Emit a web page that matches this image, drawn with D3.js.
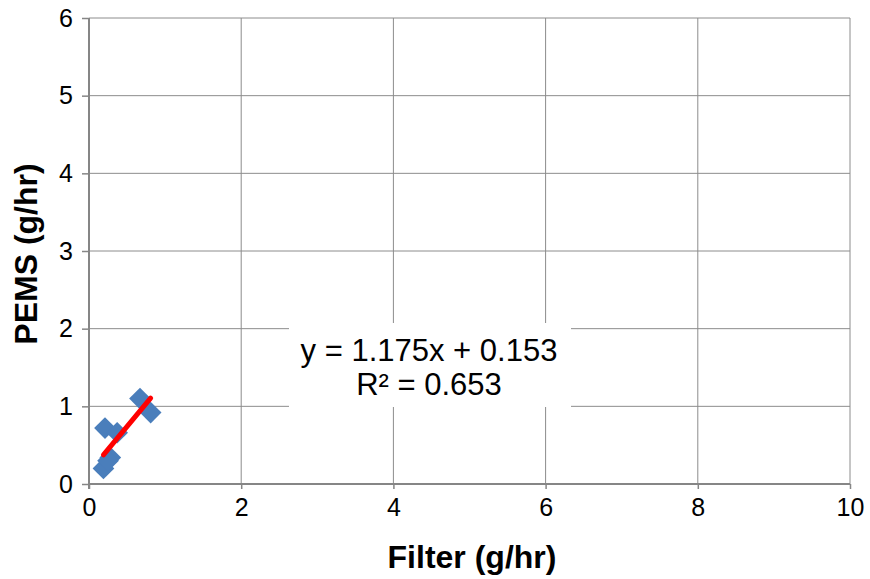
<!DOCTYPE html>
<html>
<head>
<meta charset="utf-8">
<script src="https://cdn.jsdelivr.net/npm/d3@7"></script>
<style>
  body { margin: 0; background: #fff; }
  svg text { font-family: "Liberation Sans", Arial, sans-serif; }
</style>
</head>
<body>
<svg id="chart" width="870" height="579"></svg>
<script>
// data
const filterVals = [0.67, 0.81, 0.21, 0.37, 0.28, 0.19, 0.25];
const pemsVals   = [1.10, 0.92, 0.72, 0.66, 0.34, 0.20, 0.30];
const xTicks = [0, 2, 4, 6, 8, 10];
const yTicks = [0, 1, 2, 3, 4, 5, 6];
const slope = 1.175, intercept = 0.153;
const eqLines = ["y = 1.175x + 0.153", "R\u00b2 = 0.653"];

const svg = d3.select("#chart");
const m = { left: 89, right: 850, top: 18, bottom: 484 };

const x = d3.scaleLinear().domain([0, 10]).range([m.left, m.right]);
const y = d3.scaleLinear().domain([0, 6]).range([m.bottom, m.top]);

// grid
svg.append("g").selectAll("line")
    .data(xTicks.slice(1))
    .enter().append("line")
    .attr("x1", d => x(d)).attr("x2", d => x(d))
    .attr("y1", m.top).attr("y2", m.bottom)
    .attr("stroke", "#8c8c8c").attr("stroke-width", 1);

svg.append("g").selectAll("line")
    .data(yTicks.slice(1))
    .enter().append("line")
    .attr("x1", m.left).attr("x2", m.right)
    .attr("y1", d => y(d)).attr("y2", d => y(d))
    .attr("stroke", "#8c8c8c").attr("stroke-width", 1);

// axes
const xAxis = svg.append("g")
    .attr("transform", `translate(0,${m.bottom})`)
    .call(d3.axisBottom(x).tickValues(xTicks).tickFormat(d3.format("d"))
        .tickSize(5).tickPadding(9));
const yAxis = svg.append("g")
    .attr("transform", `translate(${m.left},0)`)
    .call(d3.axisLeft(y).tickValues(yTicks).tickFormat(d3.format("d"))
        .tickSize(7).tickPadding(9));

[xAxis, yAxis].forEach(a => {
    a.attr("font-size", null).attr("font-family", null);
    a.select(".domain").attr("stroke", "#868686").attr("stroke-width", 2);
    a.selectAll(".tick line").attr("stroke", "#868686").attr("stroke-width", 1.5);
    a.selectAll(".tick text")
        .attr("fill", "#000")
        .style("font-size", "25px");
});
xAxis.select(".domain").attr("d", `M${m.left},0H${m.right}`);
yAxis.select(".domain").attr("d", `M0,${m.bottom + 5}V${m.top}`);

// points
const pts = filterVals.map((v, i) => ({ fx: v, py: pemsVals[i] }));
svg.append("g").selectAll("path")
    .data(pts)
    .enter().append("path")
    .attr("d", d3.symbol().type(d3.symbolDiamond2).size(300))
    .attr("transform", d => `translate(${x(d.fx)},${y(d.py)})`)
    .attr("fill", "#4a7ebb");

// trendline
const xMin = d3.min(filterVals), xMax = d3.max(filterVals);
svg.append("line")
    .attr("x1", x(xMin)).attr("y1", y(slope * xMin + intercept))
    .attr("x2", x(xMax)).attr("y2", y(slope * xMax + intercept))
    .attr("stroke", "#ff0000").attr("stroke-width", 5)
    .attr("stroke-linecap", "round");

// equation label
svg.append("rect")
    .attr("x", 289).attr("y", 323).attr("width", 282).attr("height", 84)
    .attr("fill", "#fff");
svg.append("g").selectAll("text")
    .data(eqLines)
    .enter().append("text")
    .attr("x", 429)
    .attr("y", (d, i) => 361 + i * 34)
    .attr("text-anchor", "middle")
    .style("font-size", "31px")
    .text(d => d);

// titles
svg.append("text")
    .attr("x", 472).attr("y", 568)
    .attr("text-anchor", "middle")
    .style("font-size", "32px").style("font-weight", "bold")
    .text("Filter (g/hr)");

svg.append("text")
    .attr("transform", `translate(37,${y(3) + 3}) rotate(-90)`)
    .attr("text-anchor", "middle")
    .style("font-size", "32px").style("font-weight", "bold")
    .text("PEMS (g/hr)");
</script>
</body>
</html>
